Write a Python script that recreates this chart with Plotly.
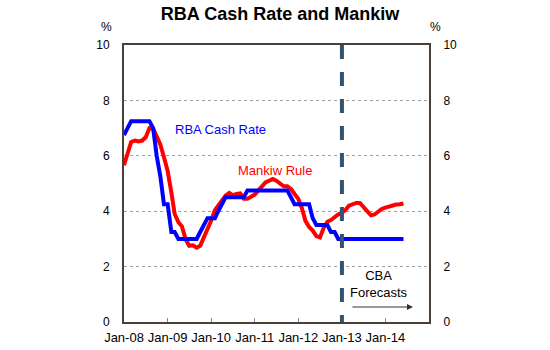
import pandas as pd
import plotly.graph_objects as go

# ---- data ----
start_month = "2008-01-01"
n_months = 78
months = pd.date_range(start_month, periods=n_months, freq="MS")

rba_cash_rate = [6.75, 7.0, 7.25, 7.25, 7.25, 7.25, 7.25, 7.25, 7.0, 6.0, 5.25, 4.25,
                 4.25, 3.25, 3.25, 3.0, 3.0, 3.0, 3.0, 3.0, 3.0, 3.25, 3.5, 3.75,
                 3.75, 3.75, 4.0, 4.25, 4.5, 4.5, 4.5, 4.5, 4.5, 4.5, 4.75, 4.75,
                 4.75, 4.75, 4.75, 4.75, 4.75, 4.75, 4.75, 4.75, 4.75, 4.75, 4.5, 4.25,
                 4.25, 4.25, 4.25, 4.25, 3.75, 3.5, 3.5, 3.5, 3.5, 3.25, 3.25, 3.0,
                 3.0, 3.0, 3.0, 3.0, 3.0, 3.0, 3.0, 3.0, 3.0, 3.0, 3.0, 3.0,
                 3.0, 3.0, 3.0, 3.0, 3.0, 3.0]

mankiw_rule = [5.66, 6.1, 6.5, 6.55, 6.52, 6.55, 6.67, 7.0, 6.98, 6.7, 6.4, 5.95,
               5.45, 4.68, 3.9, 3.6, 3.45, 2.98, 2.75, 2.77, 2.68, 2.75, 3.05, 3.35,
               3.66, 4.04, 4.2, 4.4, 4.56, 4.66, 4.58, 4.62, 4.64, 4.45, 4.45, 4.52,
               4.6, 4.75, 4.9, 5.04, 5.1, 5.16, 5.1, 5.0, 4.9, 4.9, 4.8, 4.62,
               4.45, 4.1, 3.65, 3.43, 3.3, 3.1, 3.05, 3.4, 3.62, 3.68, 3.8, 3.88,
               3.95, 4.05, 4.2, 4.27, 4.3, 4.3, 4.15, 3.97, 3.85, 3.88, 3.98, 4.08,
               4.13, 4.18, 4.22, 4.24, 4.25, 4.28]

x_tick_dates = ["2008-01-01", "2009-01-01", "2010-01-01", "2011-01-01",
                "2012-01-01", "2013-01-01", "2014-01-01"]
x_tick_labels = ["Jan-08", "Jan-09", "Jan-10", "Jan-11", "Jan-12", "Jan-13", "Jan-14"]
y_ticks = [0, 2, 4, 6, 8, 10]
x_range = ["2008-01-01", "2015-01-01"]
forecast_start = "2013-01-01"

# ---- layout geometry (pixels) ----
W, H = 550, 350
L, R, T, B = 124, 429, 45, 322


def px(x):
    return (x - L) / (R - L)


def py(y):
    return (B - y) / (B - T)


FONT = "Liberation Sans, Arial, sans-serif"
FRAME = "#4a4038"

fig = go.Figure()
fig.add_trace(go.Scatter(x=months, y=mankiw_rule, mode="lines", name="Mankiw Rule",
                         line=dict(color="#ff0000", width=4), yaxis="y"))
fig.add_trace(go.Scatter(x=months, y=rba_cash_rate, mode="lines", name="RBA Cash Rate",
                         line=dict(color="#0000ff", width=4), yaxis="y2"))

yax = dict(range=[0, 10], tickvals=y_ticks, gridcolor="#a0a0a0",
           griddash="dot", gridwidth=1, zeroline=False, showline=True, linecolor=FRAME,
           linewidth=2, ticks="", tickfont=dict(family=FONT, size=12, color="#000"),
           ticklabelstandoff=10, fixedrange=True, automargin=False)

fig.update_layout(
    width=W, height=H,
    margin=dict(l=L, r=W - R, t=T, b=H - B),
    paper_bgcolor="white", plot_bgcolor="white",
    showlegend=False,
    title=dict(text="<b>RBA Cash Rate and Mankiw</b>", x=280 / W, xanchor="center",
               y=1 - 14 / H, yanchor="middle", xref="container", yref="container",
               font=dict(family=FONT, size=18, color="#000")),
    xaxis=dict(type="date", range=x_range, tickvals=x_tick_dates, ticktext=x_tick_labels,
               showgrid=False, zeroline=False, showline=True, mirror=True,
               linecolor=FRAME, linewidth=2, ticks="inside", ticklen=4,
               tickcolor="#888", tickwidth=1, automargin=False, fixedrange=True,
               tickfont=dict(family=FONT, size=13, color="#000"),
               ticklabelstandoff=2),
    yaxis=dict(**yax, showgrid=True, side="left", mirror=True),
    yaxis2=dict(**yax, showgrid=False, overlaying="y", side="right"),
)

# forecast divider
fig.add_shape(type="line", xref="x", yref="paper", x0=forecast_start, x1=forecast_start,
              y0=1, y1=0, line=dict(color="#325372", width=4, dash="14px,13px"))


def note(text, x, y, color="#000", size=13):
    fig.add_annotation(xref="paper", yref="paper", x=px(x), y=py(y), text=text,
                       showarrow=False, xanchor="center", yanchor="middle",
                       font=dict(family=FONT, size=size, color=color))


note("%", 106.7, 27, size=12)
note("%", 435, 27, size=12)
note("RBA Cash Rate", 220, 129, "#0000ff")
note("Mankiw Rule", 275, 170, "#ff0000")
note("CBA<br>Forecasts", 379, 284)

fig.add_annotation(xref="paper", yref="paper", x=px(413), y=py(307), text="",
                   showarrow=True, axref="pixel", ayref="pixel", ax=-62, ay=0,
                   arrowhead=2, arrowsize=1, arrowwidth=1.2, arrowcolor="#333")

fig.write_html("out.html")
